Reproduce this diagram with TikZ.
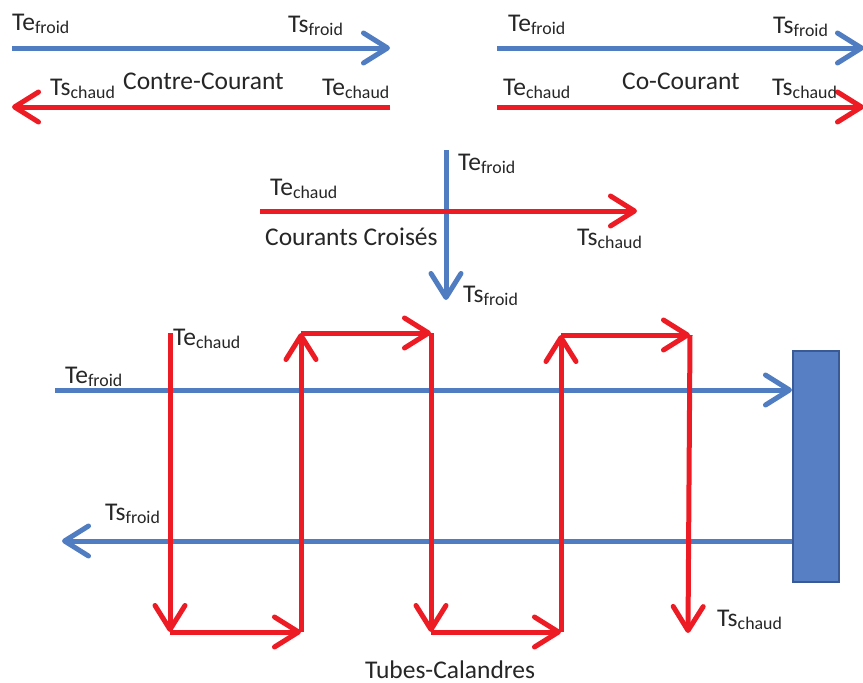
\documentclass[tikz,border=0pt]{standalone}
\usepackage{fontspec}
\setmainfont{Carlito}
\usetikzlibrary{arrows.meta}
\definecolor{coldblue}{RGB}{80,124,194}
\definecolor{hotred}{RGB}{237,28,36}
\definecolor{boxfill}{RGB}{86,127,196}
\definecolor{boxedge}{RGB}{58,90,150}
\tikzset{
  barb/.tip={Straight Barb[length=24pt,width=30pt,round]},
  cold/.style={draw=coldblue,line width=5pt,-barb},
  hot/.style={draw=hotred,line width=5pt,-barb},
  lbl/.style={inner sep=0pt,anchor=base west,font=\fontsize{25.5}{30}\selectfont,text=black!85},
  title/.style={lbl}
}
\newcommand{\tval}[2]{T#1\textsubscript{#2}}
\begin{document}
\begin{tikzpicture}[x=1pt,y=-1pt]
\useasboundingbox (0,0) rectangle (863,683);

% ---------- counter-current ----------
\coordinate (cc1) at (12,48);  \coordinate (cc2) at (390,48);
\coordinate (cc3) at (390,107); \coordinate (cc4) at (12,107);
\draw[cold] (cc1) -- (cc2);
\draw[hot] (cc3) -- (cc4);
\node[lbl] (ccA) at (12,30) {\tval{e}{froid}};
\node[lbl] (ccB) at (288,32) {\tval{s}{froid}};
\node[lbl] (ccC) at (50,95) {\tval{s}{chaud}};
\node[title] (ccT) at (123,89) {Contre-Courant};
\node[lbl] (ccD) at (322,95) {\tval{e}{chaud}};

% ---------- co-current ----------
\coordinate (co1) at (497,48);  \coordinate (co2) at (864,48);
\coordinate (co3) at (497,107); \coordinate (co4) at (864,107);
\draw[cold] (co1) -- (co2);
\draw[hot] (co3) -- (co4);
\node[lbl] (coA) at (508,31) {\tval{e}{froid}};
\node[lbl] (coB) at (773,33) {\tval{s}{froid}};
\node[lbl] (coC) at (503,95) {\tval{e}{chaud}};
\node[title] (coT) at (622,89) {Co-Courant};
\node[lbl] (coD) at (772,95) {\tval{s}{chaud}};

% ---------- cross flow ----------
\coordinate (cx1) at (446,150); \coordinate (cx2) at (446,300);
\coordinate (cx3) at (260,211); \coordinate (cx4) at (637,211);
\draw[cold] (cx1) -- (cx2);
\draw[hot] (cx3) -- (cx4);
\node[lbl] (cxA) at (458,170) {\tval{e}{froid}};
\node[lbl] (cxB) at (270,195) {\tval{e}{chaud}};
\node[title] (cxT) at (265,245) {Courants Croisés};
\node[lbl] (cxC) at (577,245) {\tval{s}{chaud}};
\node[lbl] (cxD) at (463,302) {\tval{s}{froid}};

% ---------- shell and tubes ----------
\node[draw=boxedge,fill=boxfill,line width=1.5pt,minimum width=46pt,minimum height=231pt,inner sep=0pt,anchor=north west] (shell) at (792,350) {};
\coordinate (bt1) at (55,390);
\coordinate (bb2) at (62,541);
\draw[cold] (bt1) -- (shell.west |- bt1);
\draw[cold] (shell.west |- bb2) -- (bb2);

\coordinate (p0) at (170,333);
\coordinate (p1) at (170,632);
\coordinate (p2) at (301,632);
\coordinate (p3) at (301,333);
\coordinate (p4) at (431,333);
\coordinate (p5) at (431,632);
\coordinate (p6) at (561,632);
\coordinate (p7) at (561,335);
\coordinate (p8) at (690,335);
\coordinate (p9) at (688,633);
\draw[hot] (p0) -- (p1);
\draw[hot] (p1) -- (p2);
\draw[hot] (p2) -- (p3);
\draw[hot] (p3) -- (p4);
\draw[hot] (p4) -- (p5);
\draw[hot] (p5) -- (p6);
\draw[hot] (p6) -- (p7);
\draw[hot] (p7) -- (p8);
\draw[hot] (p8 |- p7) -- (p9);

\node[lbl] (tcA) at (173,345) {\tval{e}{chaud}};
\node[lbl] (tcB) at (65,383) {\tval{e}{froid}};
\node[lbl] (tcC) at (105,520) {\tval{s}{froid}};
\node[lbl] (tcD) at (717,626) {\tval{s}{chaud}};
\node[title] (tcT) at (365,678) {Tubes-Calandres};
\end{tikzpicture}
\end{document}
